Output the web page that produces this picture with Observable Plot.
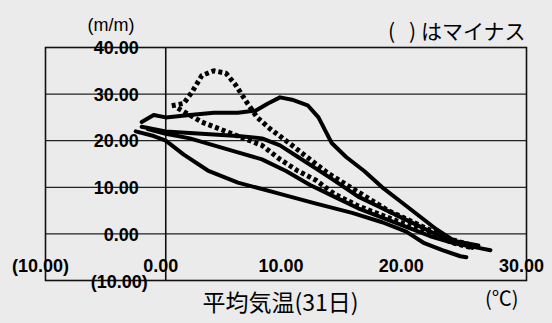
<!DOCTYPE html>
<html><head><meta charset="utf-8">
<script src="https://cdn.jsdelivr.net/npm/d3@7"></script>
<script src="https://cdn.jsdelivr.net/npm/@observablehq/plot@0.6"></script>
<style>html,body{margin:0;padding:0;background:#ebebeb;}</style>
</head><body><div id="chart"></div>
<script>
const xTicks = [-10, 0, 10, 20, 30];
const yTicks = [-10, 0, 10, 20, 30, 40];

// [mean temperature (31 days), value (m/m)]
const s1 = [[0.5,27.5],[1.5,28],[2.2,30.5],[3,34],[4,35],[5,34.5],[5.8,32],[6.8,28],[7.6,25],[8.7,22.5],[10,20],[11.5,17],[13.5,13],[16,9],[18.5,5],[21,2],[23.5,-1],[25.5,-2.5]];
const s2 = [[-2,24],[-1,25.5],[0,25],[2,25.5],[4,26],[6,26],[7.5,26.5],[8.5,28],[9.5,29.3],[10.5,28.8],[11.8,27.6],[12.7,25],[13.3,22],[13.8,19.5],[15,16.5],[16.5,13.5],[18,10],[19.5,7],[21,4],[22.5,1],[24,-1.5],[25.5,-3]];
const s3 = [[1,27],[3,24],[5,22],[7,20],[8,19],[9.5,16],[11,13.5],[12.5,11.5],[14,8.6],[16,6],[18,4],[20,2],[22,0],[24,-2],[25.5,-3]];
const s4 = [[-2.5,22],[-1,21],[0,20],[1.5,17],[3.5,13.6],[6,11],[9.5,8.6],[12.5,6.5],[15.5,4.5],[18,2.5],[20,0.5],[21.5,-2],[23,-3.5],[24.5,-4.8],[25,-5]];
const s5 = [[-1.5,22.5],[0,21.5],[2,20.5],[4,19],[6,17.5],[8,16],[10,13.5],[12,10.5],[14,8],[16,5.5],[18,3.5],[20,1.5],[22,-0.5],[24,-2],[26,-3],[27,-3.5]];
const s6 = [[-2,23],[0,22],[3,21.5],[6,21],[8,20.5],[9.5,19],[11,16.5],[12.5,14],[14,11.5],[16,8],[18,5.5],[20,3],[22,0.5],[24,-1.5],[26,-2.5]];

const fmt = v => v < 0 ? `(${Math.abs(v).toFixed(2)})` : v.toFixed(2);
const rows = (list) => list.flatMap((s, i) => s.map(([x, y]) => ({x, y, id: i})));
const solidRows = rows([s2, s4, s5, s6]);
const dottedRows = rows([s1, s3]);

const num = "Liberation Sans, Arial, sans-serif";
const jp = "Noto Sans CJK JP, sans-serif";

const plot = Plot.plot({
  width: 552, height: 323,
  marginLeft: 45, marginRight: 26, marginTop: 47, marginBottom: 43,
  x: {domain: [-10, 30], axis: null},
  y: {domain: [-10, 40], axis: null},
  style: {background: "transparent", fontFamily: num, color: "#000", overflow: "visible"},
  marks: [
    Plot.ruleY([0, 10, 20, 30], {stroke: "#222", strokeWidth: 1.2}),
    Plot.ruleX([0], {stroke: "#111", strokeWidth: 1.6}),
    Plot.frame({stroke: "#111", strokeWidth: 1.6}),
    Plot.line(solidRows, {x: "x", y: "y", z: "id", stroke: "#000", strokeWidth: 4, curve: "linear"}),
    Plot.line(dottedRows, {x: "x", y: "y", z: "id", stroke: "#000", strokeWidth: 5, strokeDasharray: "4,3", strokeLinecap: "butt", strokeLinejoin: "miter", curve: "linear"}),
    Plot.text(yTicks.filter(d => d >= 0), {x: 0, y: d => d, text: fmt, textAnchor: "end", dx: -27, dy: 1, fontSize: 18, fontWeight: "bold", fill: "#000"}),
    Plot.text(yTicks.filter(d => d < 0), {x: 0, y: d => d, text: fmt, textAnchor: "end", dx: -18, dy: 2, fontSize: 18, fontWeight: "bold", fill: "#000"}),
    Plot.text(xTicks, {x: d => d, y: -10, text: fmt, dx: -5, dy: -14, fontSize: 18, fontWeight: "bold", fill: "#000"}),
    Plot.text(["(m/m)"], {frameAnchor: "top-left", text: d => d, textAnchor: "start", dx: 42, dy: -29, fontSize: 18, fontFamily: num, fill: "#000"}),
    Plot.text(["(   ) はマイナス"], {frameAnchor: "top-right", text: d => d, textAnchor: "end", dx: -1, dy: -23, fontSize: 21, fontFamily: jp, fill: "#000"}),
    Plot.text(["平均気温(31日)"], {frameAnchor: "bottom-left", text: d => d, textAnchor: "start", dx: 157, dy: 30, fontSize: 23, fontFamily: jp, fill: "#000"}),
    Plot.text(["(℃)"], {frameAnchor: "bottom-right", text: d => d, textAnchor: "end", dx: -8, dy: 25, fontSize: 20, fontFamily: jp, fill: "#000"})
  ]
});
document.getElementById("chart").appendChild(plot);
</script>
</body></html>
